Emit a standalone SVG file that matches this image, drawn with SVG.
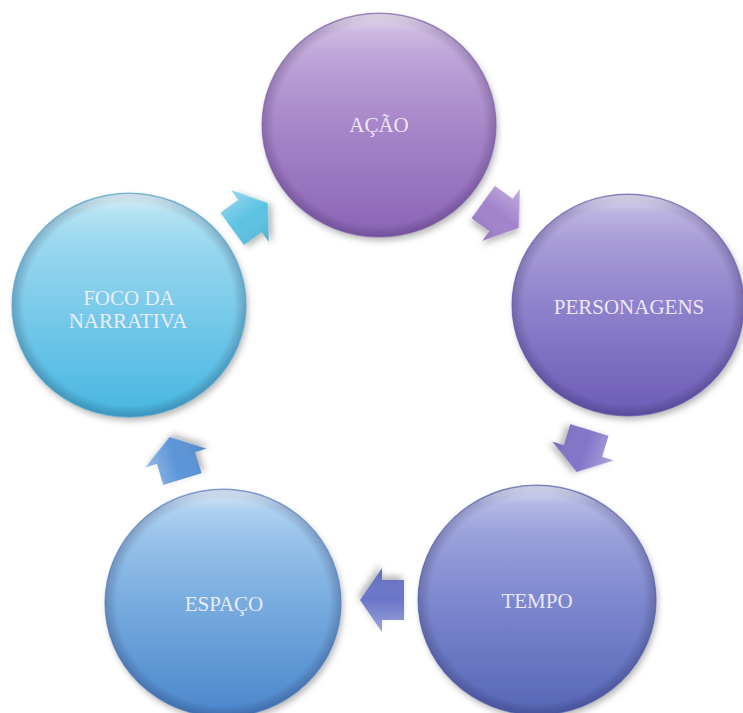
<svg xmlns="http://www.w3.org/2000/svg" width="743" height="713" viewBox="0 0 743 713">
  <defs>
    <!-- body fills, light at the top, deeper at the bottom -->
    <linearGradient id="gAcao" x1="0" y1="0" x2="0" y2="1">
      <stop offset="0" stop-color="#cbb7e0"/>
      <stop offset="0.5" stop-color="#a886ca"/>
      <stop offset="1" stop-color="#8b64b6"/>
    </linearGradient>
    <linearGradient id="gPers" x1="0" y1="0" x2="0" y2="1">
      <stop offset="0" stop-color="#bab0e0"/>
      <stop offset="0.5" stop-color="#8f82cc"/>
      <stop offset="1" stop-color="#6b5bb6"/>
    </linearGradient>
    <linearGradient id="gTempo" x1="0" y1="0" x2="0" y2="1">
      <stop offset="0" stop-color="#b0b5e4"/>
      <stop offset="0.5" stop-color="#7d88cf"/>
      <stop offset="1" stop-color="#5566b6"/>
    </linearGradient>
    <linearGradient id="gEsp" x1="0" y1="0" x2="0" y2="1">
      <stop offset="0" stop-color="#b0d2f2"/>
      <stop offset="0.5" stop-color="#78acdf"/>
      <stop offset="1" stop-color="#4b86cc"/>
    </linearGradient>
    <linearGradient id="gFoco" x1="0" y1="0" x2="0" y2="1">
      <stop offset="0" stop-color="#b4e2f2"/>
      <stop offset="0.5" stop-color="#7ccbea"/>
      <stop offset="1" stop-color="#47b6e0"/>
    </linearGradient>
    <!-- bevel: bright top edge and darker rim -->
    <linearGradient id="gloss" x1="0" y1="0" x2="0" y2="1">
      <stop offset="0" stop-color="#ffffff" stop-opacity="0.55"/>
      <stop offset="0.08" stop-color="#ffffff" stop-opacity="0.12"/>
      <stop offset="0.2" stop-color="#ffffff" stop-opacity="0"/>
    </linearGradient>
    <radialGradient id="rim" cx="0.5" cy="0.5" r="0.5">
      <stop offset="0" stop-color="#000" stop-opacity="0"/>
      <stop offset="0.9" stop-color="#000" stop-opacity="0"/>
      <stop offset="1" stop-color="#1a0a40" stop-opacity="0.22"/>
    </radialGradient>
    <!-- arrow faces -->
    <linearGradient id="aFill" x1="0" y1="0" x2="0" y2="1">
      <stop offset="0" stop-color="#ffffff" stop-opacity="0.35"/>
      <stop offset="0.5" stop-color="#ffffff" stop-opacity="0"/>
      <stop offset="1" stop-color="#000000" stop-opacity="0.12"/>
    </linearGradient>
    <filter id="shadow" x="-20%" y="-20%" width="140%" height="140%">
      <feDropShadow dx="2" dy="4" stdDeviation="3" flood-color="#000" flood-opacity="0.28"/>
    </filter>
    <path id="arrowShape" d="M-22,-20 L0,-20 L0,-32 L22,0 L0,32 L0,20 L-22,20 Z"/>
  </defs>
  <style>
    .label { font-family: "Liberation Serif", "DejaVu Serif", serif; font-size: 21px; fill: #f6f2fb; fill-opacity: 0.92; text-anchor: middle; }
    .rimline { fill: none; stroke-width: 1.2; stroke-opacity: 0.6; }
    .arrow { filter: url(#shadow); }
  </style>

  <g id="connectors">
    <g class="arrow" transform="translate(250,216) rotate(-36)">
      <use href="#arrowShape" fill="#5cc2e2"/>
      <use href="#arrowShape" fill="url(#aFill)"/>
    </g>
    <g class="arrow" transform="translate(501,215) rotate(36)">
      <use href="#arrowShape" fill="#a183cc"/>
      <use href="#arrowShape" fill="url(#aFill)"/>
    </g>
    <g class="arrow" transform="translate(583,451) rotate(107)">
      <use href="#arrowShape" fill="#8274c8"/>
      <use href="#arrowShape" fill="url(#aFill)"/>
    </g>
    <g class="arrow" transform="translate(382,600) rotate(180)">
      <use href="#arrowShape" fill="#6a76c8"/>
      <use href="#arrowShape" fill="url(#aFill)"/>
    </g>
    <g class="arrow" transform="translate(176,458) rotate(-107)">
      <use href="#arrowShape" fill="#5b94d8"/>
      <use href="#arrowShape" fill="url(#aFill)"/>
    </g>
  </g>

  <g id="node-acao">
    <ellipse cx="379" cy="125" rx="117" ry="112" fill="url(#gAcao)" filter="url(#shadow)"/>
    <ellipse cx="379" cy="125" rx="117" ry="112" fill="url(#rim)"/>
    <ellipse cx="379" cy="125" rx="116" ry="111" fill="url(#gloss)"/>
    <ellipse cx="379" cy="125" rx="117" ry="112" class="rimline" stroke="#7a55a6"/>
    <text class="label" x="379" y="132">AÇÃO</text>
  </g>

  <g id="node-personagens">
    <ellipse cx="628" cy="305" rx="116" ry="111" fill="url(#gPers)" filter="url(#shadow)"/>
    <ellipse cx="628" cy="305" rx="116" ry="111" fill="url(#rim)"/>
    <ellipse cx="628" cy="305" rx="115" ry="110" fill="url(#gloss)"/>
    <ellipse cx="628" cy="305" rx="116" ry="111" class="rimline" stroke="#5b4aa6"/>
    <text class="label" x="629" y="314">PERSONAGENS</text>
  </g>

  <g id="node-tempo">
    <ellipse cx="537" cy="600" rx="119" ry="115" fill="url(#gTempo)" filter="url(#shadow)"/>
    <ellipse cx="537" cy="600" rx="119" ry="115" fill="url(#rim)"/>
    <ellipse cx="537" cy="600" rx="118" ry="114" fill="url(#gloss)"/>
    <ellipse cx="537" cy="600" rx="119" ry="115" class="rimline" stroke="#4656a6"/>
    <text class="label" x="537" y="608">TEMPO</text>
  </g>

  <g id="node-espaco">
    <ellipse cx="223" cy="603" rx="118" ry="114" fill="url(#gEsp)" filter="url(#shadow)"/>
    <ellipse cx="223" cy="603" rx="118" ry="114" fill="url(#rim)"/>
    <ellipse cx="223" cy="603" rx="117" ry="113" fill="url(#gloss)"/>
    <ellipse cx="223" cy="603" rx="118" ry="114" class="rimline" stroke="#3d74b8"/>
    <text class="label" x="224" y="611">ESPAÇO</text>
  </g>

  <g id="node-foco">
    <ellipse cx="129" cy="305" rx="117" ry="112" fill="url(#gFoco)" filter="url(#shadow)"/>
    <ellipse cx="129" cy="305" rx="117" ry="112" fill="url(#rim)"/>
    <ellipse cx="129" cy="305" rx="116" ry="111" fill="url(#gloss)"/>
    <ellipse cx="129" cy="305" rx="117" ry="112" class="rimline" stroke="#3aa2cc"/>
    <text class="label" x="129" y="305">FOCO DA</text>
    <text class="label" x="128" y="328">NARRATIVA</text>
  </g>
</svg>
